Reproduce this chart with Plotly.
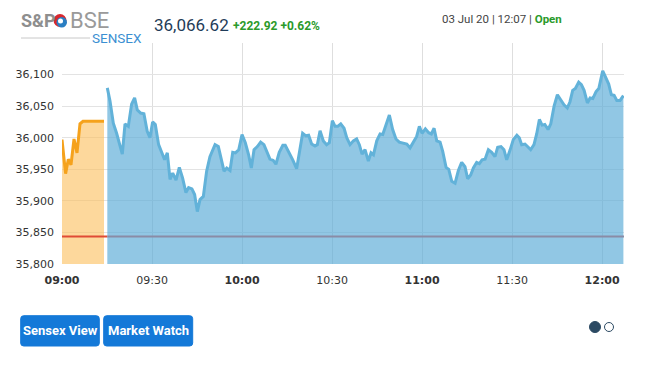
import plotly.graph_objects as go

# ---------------- data ----------------
# minutes after 09:00
pre_open_min = [0, 1.2, 2.1, 3.0, 4.0, 5.0, 6.0, 7.0, 14.0]
pre_open_val = [35997, 35943, 35966, 35957, 35998, 35976, 36022, 36026, 36026]

session_min = [15.1, 16.0, 17.1, 18.2, 20.1, 21.0, 22.1, 23.2, 24.2, 25.1, 26.2, 27.3, 28.4, 29.3,
               30.2, 31.1, 32.2, 33.3, 34.2, 35.1, 36.0, 36.9, 38.0, 39.1, 40.2, 41.3, 42.2, 43.3,
               44.2, 45.1, 46.0, 47.1, 48.2, 49.3, 51.0, 52.1, 53.2, 54.0, 54.9, 56.0, 56.9, 57.8,
               58.9, 60.0, 61.1, 62.2, 63.1, 64.0, 65.1, 66.2, 67.3, 68.4, 69.3, 70.4, 71.3, 72.4,
               73.6, 74.4, 75.6, 76.9, 78.2, 79.3, 80.2, 81.3, 82.2, 83.2, 84.3, 85.1, 86.0, 87.1,
               88.2, 89.1, 90.1, 91.0, 91.9, 92.9, 94.0, 94.9, 96.0, 97.1, 98.2, 99.1, 100.0, 101.0,
               102.1, 103.0, 103.8, 104.9, 106.0, 106.9, 108.0, 109.1, 110.2, 111.3, 112.4, 113.8,
               114.9, 116.0, 117.1, 118.2, 119.1, 120.0, 121.1, 122.2, 123.1, 124.0, 124.9, 126.0,
               126.9, 128.0, 128.9, 129.9, 131.0, 132.1, 133.2, 134.3, 135.2, 136.2, 137.1, 138.2,
               139.1, 140.0, 141.0, 142.1, 143.2, 144.3, 145.2, 146.3, 147.3, 148.2, 149.3, 150.4,
               151.6, 152.4, 153.2, 154.3, 155.4, 156.2, 157.3, 158.2, 159.1, 160.0, 160.9, 162.0,
               162.9, 164.0, 165.1, 166.2, 167.3, 168.4, 169.3, 170.2, 171.1, 172.2, 173.1, 174.0,
               175.1, 176.0, 176.9, 178.0, 178.9, 180.2, 181.3, 182.2, 183.1, 184.0, 184.9, 186.0,
               187.1]
session_val = [36079, 36058, 36023, 36007, 35974, 36022, 36018, 36053, 36063, 36044, 36039, 36038, 36010, 36000,
               36025, 36021, 35989, 35977, 35965, 35976, 35934, 35944, 35933, 35953, 35936, 35913, 35921, 35919,
               35910, 35883, 35902, 35907, 35947, 35970, 35989, 35986, 35963, 35947, 35952, 35948, 35977, 35976,
               35981, 36005, 35992, 35973, 35952, 35981, 35986, 35993, 35989, 35977, 35966, 35964, 35958, 35977,
               35988, 35988, 35978, 35965, 35951, 35984, 36007, 36003, 36004, 35990, 35987, 35989, 36011, 35995,
               35989, 35992, 36027, 36018, 36018, 36022, 36015, 36000, 35989, 35995, 35998, 35989, 35974, 35981,
               35963, 35976, 35973, 35995, 36006, 36005, 36020, 36036, 36013, 35998, 35993, 35992,
               35990, 35984, 35993, 36002, 36018, 36007, 36014, 36008, 36006, 36015, 35995, 35993,
               35978, 35953, 35950, 35931, 35928, 35948, 35961, 35954, 35935, 35941, 35952, 35961,
               35959, 35965, 35966, 35981, 35977, 35970, 35985, 35986, 35981, 35965, 35980, 35997,
               36004, 36000, 35989, 35990, 35985, 35981, 35989, 36006, 36029, 36020, 36021, 36013,
               36022, 36050, 36068, 36060, 36052, 36047, 36057, 36075, 36078, 36088, 36084, 36075,
               36055, 36063, 36062, 36073, 36078, 36106, 36095, 36085, 36068, 36067, 36059, 36059,
               36066.62]

prev_close = 35843.70
x_end = 187.3

x_tick_vals = [0, 30, 60, 90, 120, 150, 180]
x_tick_text = ["<b>09:00</b>", "09:30", "<b>10:00</b>", "10:30", "<b>11:00</b>", "11:30", "<b>12:00</b>"]
y_tick_vals = [35800, 35850, 35900, 35950, 36000, 36050, 36100, 36150]
y_tick_text = ["35,800", "35,850", "35,900", "35,950", "36,000", "36,050", "36,100", ""]

index_value = "36,066.62"
index_change = "+222.92 +0.62%"
date_text = "03 Jul 20 | 12:07 | "
status_text = "Open"
buttons = ["Sensex View", "Market Watch"]

# ---------------- layout helpers ----------------
W, H = 649, 366
L, R, T, B = 62, 624, 43, 264


def px(x):
    return (x - L) / (R - L)


def py(y):
    return (B - y) / (B - T)


def rounded_rect(x0, y0, x1, y1, r):
    X = lambda v: px(v)
    Y = lambda v: py(v)
    return (f"M {X(x0 + r)},{Y(y0)} L {X(x1 - r)},{Y(y0)} Q {X(x1)},{Y(y0)} {X(x1)},{Y(y0 + r)} "
            f"L {X(x1)},{Y(y1 - r)} Q {X(x1)},{Y(y1)} {X(x1 - r)},{Y(y1)} "
            f"L {X(x0 + r)},{Y(y1)} Q {X(x0)},{Y(y1)} {X(x0)},{Y(y1 - r)} "
            f"L {X(x0)},{Y(y0 + r)} Q {X(x0)},{Y(y0)} {X(x0 + r)},{Y(y0)} Z")


fig = go.Figure()

fig.add_trace(go.Scatter(
    x=pre_open_min, y=pre_open_val, mode="lines",
    line=dict(color="#f5a21c", width=3),
    fill="tozeroy", fillcolor="rgba(251,190,90,0.6)",
    hoverinfo="skip", showlegend=False))

fig.add_trace(go.Scatter(
    x=session_min, y=session_val, mode="lines",
    line=dict(color="#62b2d9", width=3),
    fill="tozeroy", fillcolor="rgba(88,170,214,0.66)",
    hoverinfo="skip", showlegend=False))

# previous close line
fig.add_trace(go.Scatter(
    x=[0, session_min[0]], y=[prev_close, prev_close], mode="lines",
    line=dict(color="#e04b35", width=2), hoverinfo="skip", showlegend=False))
fig.add_trace(go.Scatter(
    x=[session_min[0], x_end], y=[prev_close, prev_close], mode="lines",
    line=dict(color="#8a8ca6", width=2), hoverinfo="skip", showlegend=False))

shapes = []
annotations = []

# logo underline
shapes.append(dict(type="line", xref="paper", yref="paper",
                   x0=px(21), x1=px(90), y0=py(38), y1=py(38),
                   line=dict(color="#c8c8c8", width=1)))
# logo swirl
shapes.append(dict(type="circle", xref="paper", yref="paper",
                   x0=px(53.5), x1=px(66.5), y0=py(27), y1=py(14),
                   fillcolor="#d9272e", line=dict(width=0)))
shapes.append(dict(type="circle", xref="paper", yref="paper",
                   x0=px(56.5), x1=px(67), y0=py(27.5), y1=py(17),
                   fillcolor="#2b7fc3", line=dict(width=0)))
shapes.append(dict(type="circle", xref="paper", yref="paper",
                   x0=px(58), x1=px(63), y0=py(23.5), y1=py(18.5),
                   fillcolor="white", line=dict(width=0)))

annotations += [
    dict(text="<b>S&amp;P</b>", x=px(19), y=py(20.5), xanchor="left", yanchor="middle",
         font=dict(family="Roboto", size=18, color="#8e8e8e")),
    dict(text="BSE", x=px(67.5), y=py(20.5), xanchor="left", yanchor="middle",
         font=dict(family="Roboto", size=22, color="#9a9a9a")),
    dict(text="SENSEX", x=px(89.5), y=py(37.5), xanchor="left", yanchor="middle",
         font=dict(family="Roboto", size=13.5, color="#3b8fd2")),
    dict(text=index_value, x=px(151.5), y=py(25), xanchor="left", yanchor="middle",
         font=dict(family="Roboto", size=17, color="#1f3c58")),
    dict(text="<b>" + index_change + "</b>", x=px(231), y=py(26), xanchor="left", yanchor="middle",
         font=dict(family="Roboto", size=12, color="#2b9a2b")),
    dict(text=date_text + "<b><span style='color:#2a9a2a'>" + status_text + "</span></b>",
         x=px(440), y=py(19.5), xanchor="left", yanchor="middle",
         font=dict(family="Roboto", size=11.5, color="#444444")),
]

# buttons
btn_boxes = [(20.7, 315.7, 99.3, 346), (103.7, 315.7, 192.7, 346)]
for label, (x0, y0, x1, y1) in zip(buttons, btn_boxes):
    shapes.append(dict(type="path", xref="paper", yref="paper",
                       path=rounded_rect(x0, y0, x1, y1, 3),
                       fillcolor="#1479d8", line=dict(color="#1479d8", width=1)))
    annotations.append(dict(text="<b>" + label + "</b>", x=px((x0 + x1) / 2), y=py((y0 + y1) / 2),
                            xanchor="center", yanchor="middle",
                            font=dict(family="Roboto", size=13, color="white")))

# pagination dots
shapes.append(dict(type="circle", xref="paper", yref="paper",
                   x0=px(589.5), x1=px(600.5), y0=py(332.5), y1=py(321.5),
                   fillcolor="#2c4a63", line=dict(color="#2c4a63", width=1)))
shapes.append(dict(type="circle", xref="paper", yref="paper",
                   x0=px(604.5), x1=px(613.5), y0=py(331.5), y1=py(322.5),
                   fillcolor="white", line=dict(color="#2c4a63", width=1)))

for a in annotations:
    a.update(xref="paper", yref="paper", showarrow=False)

fig.update_layout(
    width=W, height=H,
    margin=dict(l=L, r=W - R, t=T, b=H - B, pad=0),
    paper_bgcolor="white", plot_bgcolor="white",
    shapes=shapes, annotations=annotations,
    xaxis=dict(range=[0, x_end], tickmode="array", tickvals=x_tick_vals, ticktext=x_tick_text,
               showgrid=True, gridcolor="#dedede", gridwidth=1, zeroline=False,
               showline=False, ticks="", ticklabelstandoff=8,
               tickfont=dict(family="DejaVu Sans", size=11, color="#333333")),
    yaxis=dict(range=[35800, 36150], tickmode="array", tickvals=y_tick_vals, ticktext=y_tick_text,
               showgrid=True, gridcolor="#e3e3e3", gridwidth=1, zeroline=False,
               showline=False, ticks="", ticklabelstandoff=7,
               tickfont=dict(family="DejaVu Sans", size=11, color="#333333")),
)

fig.write_html("out.html", config={"displayModeBar": False},
               post_script="document.body.style.margin='0';document.body.style.overflow='hidden';")
